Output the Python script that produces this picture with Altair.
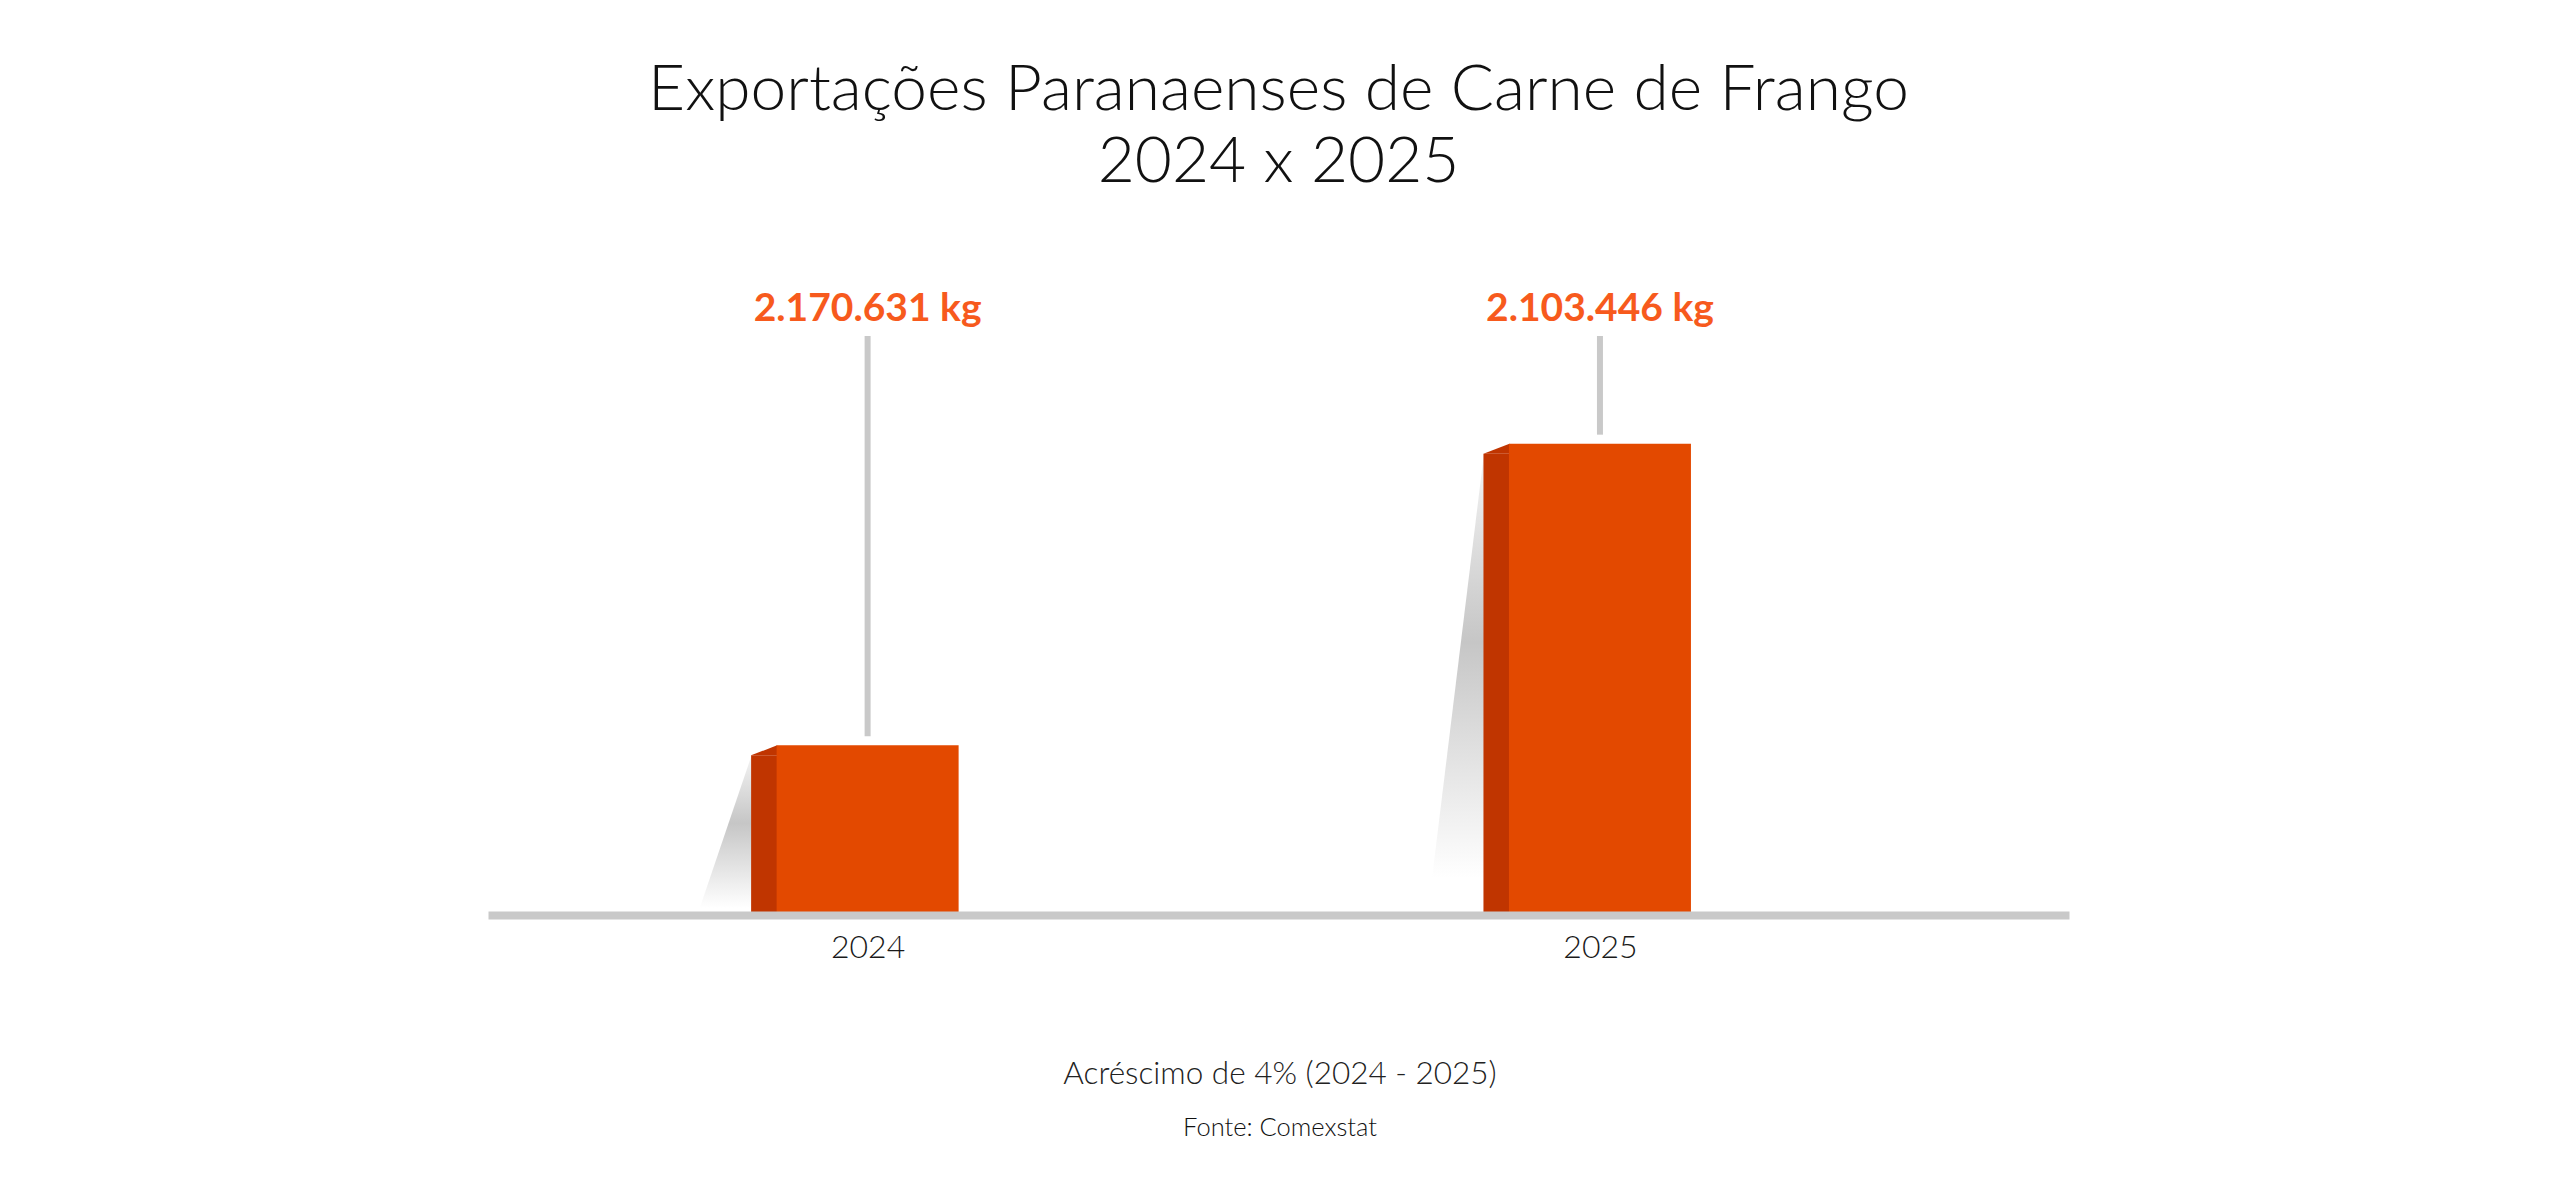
import altair as alt
import pandas as pd

anos = [2024, 2025]
exportacoes_kg = [2170631, 2103446]
# altura das barras no desenho (relativa à barra mais alta) - o infográfico não está em escala
altura_grafico = [0.36, 1.0]

titulo = ["Exportações Paranaenses de Carne de Frango", "2024 x 2025"]
nota = ["Acréscimo de 4% (2024 - 2025)"]
fonte = ["Fonte: Comexstat"]

LARANJA = "#E34900"
LARANJA_ESCURO = "#C03500"
CINZA = "#C9C9C9"
FONTE = "Lato"

# escala: 737 px por ano na área do gráfico
PX_ANO = 737
LARGURA = 1581
ALTURA = 707
dominio_x = [2024 - 377 / PX_ANO, 2024 - 377 / PX_ANO + LARGURA / PX_ANO]

rotulos = [f"{v:,}".replace(",", ".") + " kg" for v in exportacoes_kg]
df = pd.DataFrame({
    "ano": anos,
    "kg": exportacoes_kg,
    "altura": altura_grafico,
    "rotulo": rotulos,
})

# sombra: triângulo que desce do topo da face lateral até a base
ESPALHAMENTO = 58 / PX_ANO
sombra = pd.DataFrame({
    "ano": [a for a in anos for _ in range(2)],
    "h": [v for h in altura_grafico for v in (h, 0)],
    "xs": [a - d for a in anos for d in (0, ESPALHAMENTO)],
    "xb": [a for a in anos for _ in range(2)],
})

x_scale = alt.Scale(domain=dominio_x, nice=False, zero=False)
y_scale = alt.Scale(domain=[0, 1.5], nice=False)

x_axis = alt.Axis(
    values=anos, format="d", title=None, grid=False, ticks=False, tickSize=0,
    domainColor=CINZA, domainWidth=8, labelFontSize=32, labelFont=FONTE,
    labelFontWeight=300, labelColor="#1a1a1a", labelPadding=17, zindex=1,
)

base = alt.Chart(df).encode(
    x=alt.X("ano:Q", scale=x_scale, axis=x_axis),
)

gradiente = alt.Gradient(
    gradient="linear", x1=0, x2=0, y1=0, y2=1,
    stops=[
        alt.GradientStop(color="#f4f4f4", offset=0),
        alt.GradientStop(color="#c6c6c6", offset=0.4),
        alt.GradientStop(color="#ffffff", offset=0.9),
    ],
)

sombras = alt.Chart(sombra).mark_area(
    orient="horizontal", fill=gradiente, xOffset=-116, x2Offset=-116, yOffset=10,
).encode(
    y=alt.Y("h:Q", scale=y_scale, axis=None),
    x=alt.X("xs:Q", scale=x_scale, axis=x_axis),
    x2="xb:Q",
    detail="ano:N",
)

frente = base.mark_bar(size=182, color=LARANJA).encode(
    y=alt.Y("altura:Q", scale=y_scale, axis=None),
)

lateral = base.mark_bar(
    size=26, color=LARANJA_ESCURO, xOffset=-103.5, yOffset=10, y2Offset=0,
).encode(
    y=alt.Y("altura:Q", scale=y_scale, axis=None),
    y2=alt.datum(0),
)

chanfro = base.mark_point(
    shape="M -1 0.77 L 1 0 L 1 0.77 Z", size=676, filled=True, opacity=1,
    color=LARANJA_ESCURO, xOffset=-103.5,
).encode(
    y=alt.Y("altura:Q", scale=y_scale, axis=None),
)

guias = base.mark_rule(color=CINZA, strokeWidth=6, yOffset=-9).encode(
    y=alt.Y("altura:Q", scale=y_scale, axis=None),
    y2=alt.value(128),
)

valores = base.mark_text(
    font=FONTE, fontSize=39, fontWeight="bold", color="#F75A1D", baseline="middle",
).encode(
    y=alt.value(101),
    text="rotulo:N",
)

texto_nota = alt.Chart(pd.DataFrame({"t": nota})).mark_text(
    font=FONTE, fontSize=31.5, fontWeight=300, color="#222222", baseline="middle",
).encode(text="t:N", x=alt.value(792), y=alt.value(867))

texto_fonte = alt.Chart(pd.DataFrame({"t": fonte})).mark_text(
    font=FONTE, fontSize=25.5, fontWeight=300, color="#111111", baseline="middle",
).encode(text="t:N", x=alt.value(792), y=alt.value(920))

chart = alt.layer(
    sombras, lateral, chanfro, frente, guias, valores, texto_nota, texto_fonte
).properties(
    width=LARGURA,
    height=ALTURA,
    title=alt.Title(
        titulo, font=FONTE, fontSize=64, fontWeight=300, color="#111111",
        lineHeight=72, anchor="middle", offset=13,
    ),
    padding={"left": 480, "right": 483, "top": 200, "bottom": 250},
    autosize=alt.AutoSizeParams(type="none"),
    background="white",
).configure_view(stroke=None, strokeWidth=0)

chart.save("out.html", embed_options={"renderer": "svg", "actions": False})
